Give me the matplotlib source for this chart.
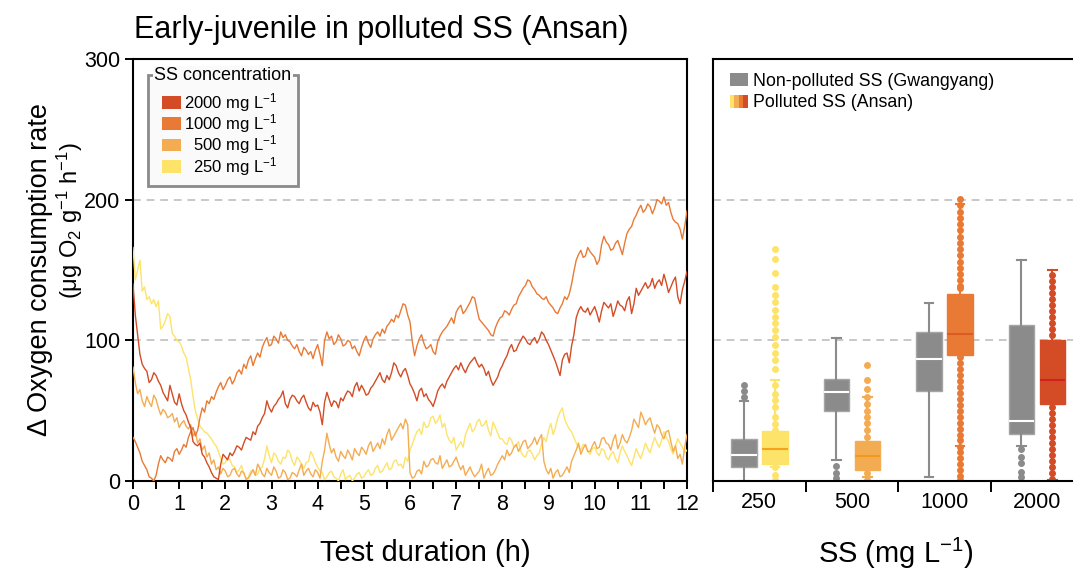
import numpy as np
import matplotlib.pyplot as plt
from matplotlib.patches import Patch, Rectangle
from matplotlib.legend_handler import HandlerTuple

plt.rcParams['font.family'] = ['Liberation Sans', 'DejaVu Sans']
plt.rcParams['mathtext.fontset'] = 'custom'
plt.rcParams['mathtext.rm'] = 'Liberation Sans'
plt.rcParams['mathtext.it'] = 'Liberation Sans:italic'
plt.rcParams['mathtext.bf'] = 'Liberation Sans:bold'

# oxygen consumption traces, one reading every 0.05 h (one row = 1 h)
hours = np.linspace(0, 12, 241)
rate_250 = [166, 143, 150, 157, 135, 138, 129, 131, 126, 129, 124, 128, 108, 110, 114, 119, 117, 105, 103, 100,
            99, 96, 91, 88, 80, 72, 60, 50, 44, 39, 37, 35, 34, 32, 30, 27, 25, 21, 16, 12,
            13, 17, 15, 11, 10, 6, 8, 11, 5, 2, 3, 7, 8, 4, 5, 9, 10, 16, 25, 18,
            13, 20, 18, 14, 12, 17, 16, 22, 20, 14, 11, 17, 15, 12, 9, 13, 14, 21, 18, 13,
            10, 7, 6, 1, 3, 6, 7, 3, 2, 0, 5, 8, 1, 3, 4, 0, 2, 5, 6, 2,
            3, 6, 8, 4, 5, 9, 11, 6, 7, 10, 13, 8, 9, 14, 15, 11, 12, 9, 17, 14,
            22, 26, 31, 35, 37, 33, 42, 38, 39, 45, 46, 41, 43, 47, 38, 41, 33, 29, 27, 31,
            22, 25, 28, 24, 33, 37, 41, 35, 37, 42, 44, 39, 40, 43, 36, 32, 42, 38, 34, 30,
            30, 27, 26, 31, 29, 24, 25, 28, 21, 18, 17, 21, 22, 19, 15, 18, 20, 26, 31, 28,
            36, 41, 33, 38, 45, 49, 52, 44, 40, 37, 35, 31, 27, 24, 22, 26, 25, 21, 19, 23,
            24, 20, 18, 23, 22, 17, 15, 19, 21, 16, 13, 20, 25, 21, 18, 14, 11, 17, 23, 19,
            16, 21, 27, 23, 20, 26, 31, 27, 24, 29, 35, 31, 28, 23, 19, 25, 30, 27, 24, 20,
            22]
rate_500 = [81, 70, 62, 65, 57, 53, 60, 56, 53, 61, 58, 52, 47, 51, 49, 45, 46, 48, 42, 45,
            38, 41, 43, 39, 37, 40, 32, 35, 27, 30, 22, 25, 17, 20, 12, 15, 8, 10, 5, 9,
            7, 3, 4, 8, 9, 5, 3, 7, 6, 1, 2, 5, 8, 4, 12, 9, 5, 3, 9, 6,
            4, 10, 7, 2, 3, 8, 6, 1, 2, 6, 5, 3, 8, 12, 4, 7, 9, 5, 3, 8,
            6, 2, 14, 22, 34, 26, 20, 23, 17, 14, 21, 18, 16, 22, 19, 15, 23, 20, 18, 24,
            22, 19, 25, 28, 21, 24, 27, 23, 30, 26, 33, 37, 29, 32, 35, 38, 41, 37, 44, 40,
            6, 2, 3, 7, 8, 5, 14, 10, 11, 15, 16, 13, 12, 18, 9, 12, 15, 10, 11, 14,
            17, 12, 8, 11, 4, 7, 10, 6, 3, 5, 7, 12, 2, 6, 9, 4, 5, 8, 12, 15,
            18, 15, 22, 18, 20, 24, 26, 21, 24, 28, 29, 23, 25, 27, 31, 26, 30, 33, 14, 8,
            5, 9, 2, 6, 8, 3, 4, 7, 10, 6, 14, 18, 22, 27, 19, 23, 26, 21, 21, 25,
            28, 23, 24, 30, 31, 27, 26, 22, 29, 33, 23, 27, 33, 29, 27, 31, 36, 44, 41, 38,
            49, 45, 40, 43, 45, 39, 34, 40, 38, 33, 30, 35, 36, 28, 21, 25, 16, 19, 12, 24,
            33]
rate_1000 = [31, 28, 24, 20, 14, 11, 8, 3, 2, 0, 4, 12, 18, 15, 13, 17, 16, 14, 21, 23,
             19, 22, 26, 24, 31, 35, 38, 32, 36, 45, 52, 49, 57, 55, 60, 58, 63, 67, 70, 65,
             68, 72, 74, 69, 72, 77, 79, 76, 83, 80, 86, 89, 82, 87, 91, 88, 95, 99, 102, 96,
             97, 103, 101, 98, 106, 102, 104, 100, 99, 96, 94, 97, 92, 89, 95, 93, 90, 92, 87, 93,
             97, 90, 82, 100, 106, 101, 103, 97, 99, 104, 101, 96, 97, 100, 99, 94, 96, 92, 89, 95,
             100, 103, 98, 95, 101, 104, 106, 103, 108, 105, 110, 112, 115, 113, 118, 116, 121, 126, 125, 118,
             113, 99, 89, 96, 101, 104, 98, 94, 95, 97, 92, 90, 99, 103, 106, 108, 110, 113, 116, 112,
             120, 123, 125, 119, 121, 124, 127, 131, 130, 122, 115, 113, 111, 109, 107, 104, 103, 109, 113, 116,
             117, 121, 120, 118, 122, 125, 126, 131, 134, 137, 139, 143, 142, 138, 136, 133, 132, 130, 129, 131,
             127, 125, 123, 120, 119, 123, 126, 131, 129, 133, 140, 149, 157, 161, 164, 159, 160, 166, 163, 161,
             159, 154, 157, 168, 174, 170, 168, 164, 165, 169, 171, 166, 161, 169, 176, 179, 181, 186, 189, 193,
             196, 191, 193, 197, 195, 190, 194, 200, 199, 197, 202, 196, 198, 191, 186, 184, 183, 179, 172, 181,
             192]
rate_2000 = [140, 118, 104, 90, 83, 80, 78, 70, 72, 77, 75, 71, 68, 63, 60, 57, 68, 62, 56, 54,
             62, 55, 50, 47, 42, 38, 28, 26, 25, 27, 19, 17, 13, 10, 6, 3, 2, 1, 12, 19,
             17, 15, 20, 18, 21, 25, 24, 22, 27, 31, 30, 29, 35, 33, 39, 41, 45, 48, 57, 52,
             49, 53, 55, 58, 60, 64, 55, 52, 58, 61, 60, 57, 55, 59, 61, 56, 52, 50, 56, 53,
             54, 49, 40, 56, 63, 58, 53, 57, 56, 52, 59, 57, 61, 64, 63, 60, 67, 70, 64, 68,
             65, 61, 62, 66, 68, 71, 74, 77, 72, 70, 75, 72, 77, 84, 82, 77, 74, 78, 80, 75,
             69, 66, 62, 57, 64, 66, 60, 62, 58, 56, 53, 58, 64, 67, 69, 66, 71, 74, 77, 80,
             82, 79, 84, 80, 77, 81, 84, 86, 88, 84, 81, 83, 80, 75, 78, 72, 68, 71, 74, 79,
             82, 86, 89, 94, 97, 92, 93, 97, 100, 103, 101, 98, 97, 100, 102, 98, 101, 106, 104, 100,
             97, 93, 89, 85, 80, 75, 86, 90, 91, 84, 96, 104, 116, 121, 124, 121, 120, 123, 118, 121,
             124, 119, 113, 121, 127, 125, 123, 126, 117, 122, 128, 125, 124, 121, 128, 131, 119, 126, 137, 132,
             135, 138, 141, 137, 139, 144, 137, 141, 143, 139, 147, 141, 134, 138, 142, 145, 131, 126, 136, 142,
             149]

ss_levels = ['250', '500', '1000', '2000']
level_colors = ['#FDE36A', '#F4AC52', '#E97A36', '#D34C26']
median_colors = ['#F7A21B', '#F39A1E', '#DD5A23', '#D21F1F']
grey = '#8B8B8B'

# box summaries: non-polluted (Gwangyang)
gw_lo = [0, 15, 2.8, 25]
gw_q1 = [10, 49.5, 64, 33.4]
gw_med = [18.5, 63, 86.7, 42.6]
gw_q3 = [30, 72.5, 106, 111]
gw_hi = [57, 101.5, 126.5, 157]
gw_fliers = [[60, 64, 68],
             [10.7, 6, 2],
             [],
             [22.7, 17.3, 12.8, 6.4, 2.8]]

# box summaries: polluted (Ansan)
an_lo = [10, 3, 25, 1]
an_q1 = [12, 8, 89.8, 54.5]
an_med = [23, 17.5, 104.7, 71.6]
an_q3 = [35.5, 28.2, 133, 100.2]
an_hi = [72, 60, 196.6, 150]
an_fliers = [[165, 157.5, 148, 137.6, 132, 127, 121.8, 116.3, 112.5, 107.6,
              102.6, 96.9, 91.2, 85.8, 79.8, 68, 62, 57.6, 52.4, 45.3,
              40.3, 36.5, 10.2, 4.3, 0.7],
             [82.4, 71.6, 65.2, 59.7, 54.7, 50, 45.5, 41, 36.2, 31.5, 5.9, 0.9],
             [200.2, 196.1, 191.4, 187.1, 182.8, 178.3, 173.6, 169.3, 165.1,
              160.6, 155.9, 151.6, 147.1, 142.9, 138.9, 137,
              88.4, 84.1, 79.8, 75.6, 71.3, 67.1, 62.8, 58.5, 54.3, 50, 45.8,
              41.5, 37.3, 33, 28.8, 24.5, 20.3, 16, 11.8, 7.5, 3.2, 0.9],
             [146.4, 142.2, 138.1, 133.9, 129.6, 125.3, 121.1, 116.8, 112.5,
              108.3, 104, 52.8, 48.5, 44.2, 40, 35.7, 31.5, 27.2, 22.9, 18.7,
              14.4, 10.2, 5.9, 1.6]]

W, H = 1073, 571
fig = plt.figure(figsize=(W / 100, H / 100), dpi=100)
ax1 = fig.add_axes([133 / W, 1 - 481 / H, 554 / W, 422 / H])
ax2 = fig.add_axes([713 / W, 1 - 481 / H, 370 / W, 422 / H])

# ---- left: time course ----
for series, col in zip([rate_250, rate_500, rate_1000, rate_2000], level_colors):
    ax1.plot(hours, series, color=col, lw=1.0, zorder=3)

ax1.set_xlim(0, 12)
ax1.set_ylim(0, 300)
half_hours = np.arange(0, 12.5, 0.5)
ax1.set_xticks(half_hours)
ax1.set_xticklabels([str(int(h)) if h % 1 == 0 else '' for h in half_hours])
ax1.set_yticks([0, 100, 200, 300])

for ax in (ax1, ax2):
    for y in (100, 200):
        ax.axhline(y, color='#C8C8C8', lw=1.4, ls=(0, (4, 3)), zorder=1)
    for sp in ax.spines.values():
        sp.set_linewidth(1.5)
    ax.tick_params(direction='out', length=6, width=1.4, labelsize=15.5, pad=3)

# legend with the title sitting on the frame
frame = Rectangle((15 / 554, (481 - 186) / 422), 150 / 554, 111 / 422,
                  transform=ax1.transAxes, facecolor='#FAFAFA', edgecolor='#8A8A8A',
                  lw=2, zorder=5)
ax1.add_patch(frame)
leg_labels = ['2000 mg L$^{-1}$', '1000 mg L$^{-1}$',
              '  500 mg L$^{-1}$', '  250 mg L$^{-1}$']
leg_handles = [Patch(facecolor=c, edgecolor='none') for c in level_colors[::-1]]
leg1 = ax1.legend(leg_handles, leg_labels, loc='upper left',
                  bbox_to_anchor=((162 - 133) / 554, (481 - 91) / 422),
                  frameon=False, fontsize=12, borderpad=0, borderaxespad=0,
                  handlelength=1.15, handleheight=0.8, handletextpad=0.2,
                  labelspacing=-0.1)
leg1.set_zorder(6)
ax1.text((154 - 133) / 554, (481 - 76) / 422, 'SS concentration', transform=ax1.transAxes,
         fontsize=13, ha='left', va='center', zorder=7,
         bbox=dict(facecolor='#FAFAFA', edgecolor='none', pad=1))

# ---- right: box plots ----
for i in range(4):
    gw = dict(whislo=gw_lo[i], q1=gw_q1[i], med=gw_med[i], q3=gw_q3[i],
              whishi=gw_hi[i], fliers=gw_fliers[i])
    ax2.bxp([gw], positions=[i + 0.335], widths=0.28, patch_artist=True,
            manage_ticks=False, capwidths=0.09,
            boxprops=dict(facecolor=grey, edgecolor='#A5A5A5', lw=1),
            whiskerprops=dict(color=grey, lw=1.5),
            capprops=dict(color=grey, lw=1.5),
            medianprops=dict(color='white', lw=1.5),
            flierprops=dict(marker='o', markersize=5, markerfacecolor=grey,
                            markeredgecolor='none'))
    an = dict(whislo=an_lo[i], q1=an_q1[i], med=an_med[i], q3=an_q3[i],
              whishi=an_hi[i], fliers=an_fliers[i])
    col = level_colors[i]
    ax2.bxp([an], positions=[i + 0.67], widths=0.28, patch_artist=True,
            manage_ticks=False, capwidths=0.09,
            boxprops=dict(facecolor=col, edgecolor=col, lw=1),
            whiskerprops=dict(color=col, lw=1.5),
            capprops=dict(color=col, lw=1.5),
            medianprops=dict(color=median_colors[i], lw=1.5),
            flierprops=dict(marker='o', markersize=5, markerfacecolor=col,
                            markeredgecolor='none'))

ax2.set_xlim(0, 4)
ax2.set_ylim(0, 300)
ax2.set_xticks([0, 1, 2, 3, 4])
ax2.set_xticklabels([])
ax2.set_xticks([0.5, 1.5, 2.5, 3.5], minor=True)
ax2.set_xticklabels(ss_levels, minor=True)
ax2.tick_params(axis='x', which='major', length=8)
ax2.tick_params(axis='x', which='minor', length=0, labelsize=15.5, pad=8)
ax2.tick_params(axis='y', left=False, labelleft=False)
ax2.spines['right'].set_visible(False)

leg2 = ax2.legend([Patch(facecolor=grey, edgecolor='none'),
                   tuple(Patch(facecolor=c, edgecolor='none') for c in level_colors)],
                  ['Non-polluted SS (Gwangyang)', 'Polluted SS (Ansan)'],
                  handler_map={tuple: HandlerTuple(ndivide=None, pad=0)},
                  loc='upper left', bbox_to_anchor=((730 - 713) / 370, (481 - 73) / 422),
                  frameon=False, fontsize=12.8, borderpad=0, borderaxespad=0,
                  handlelength=1.0, handleheight=0.75, handletextpad=0.3,
                  labelspacing=0.25)

# ---- titles and axis labels ----
fig.text(134 / W, 1 - 30 / H, 'Early-juvenile in polluted SS (Ansan)', fontsize=22,
         ha='left', va='center')
fig.text(40 / W, 1 - 270 / H, '\u0394 Oxygen consumption rate', fontsize=19.5,
         rotation=90, ha='center', va='center')
fig.text(70 / W, 1 - 220 / H, '(\u03bcg O$_2$ g$^{-1}$ h$^{-1}$)', fontsize=17,
         rotation=90, ha='center', va='center')
fig.text(425 / W, 1 - 553 / H, 'Test duration (h)', fontsize=21, ha='center', va='center')
fig.text(896 / W, 1 - 553 / H, 'SS (mg L$^{-1}$)', fontsize=21, ha='center', va='center')

fig.savefig('out.png', dpi=100)
